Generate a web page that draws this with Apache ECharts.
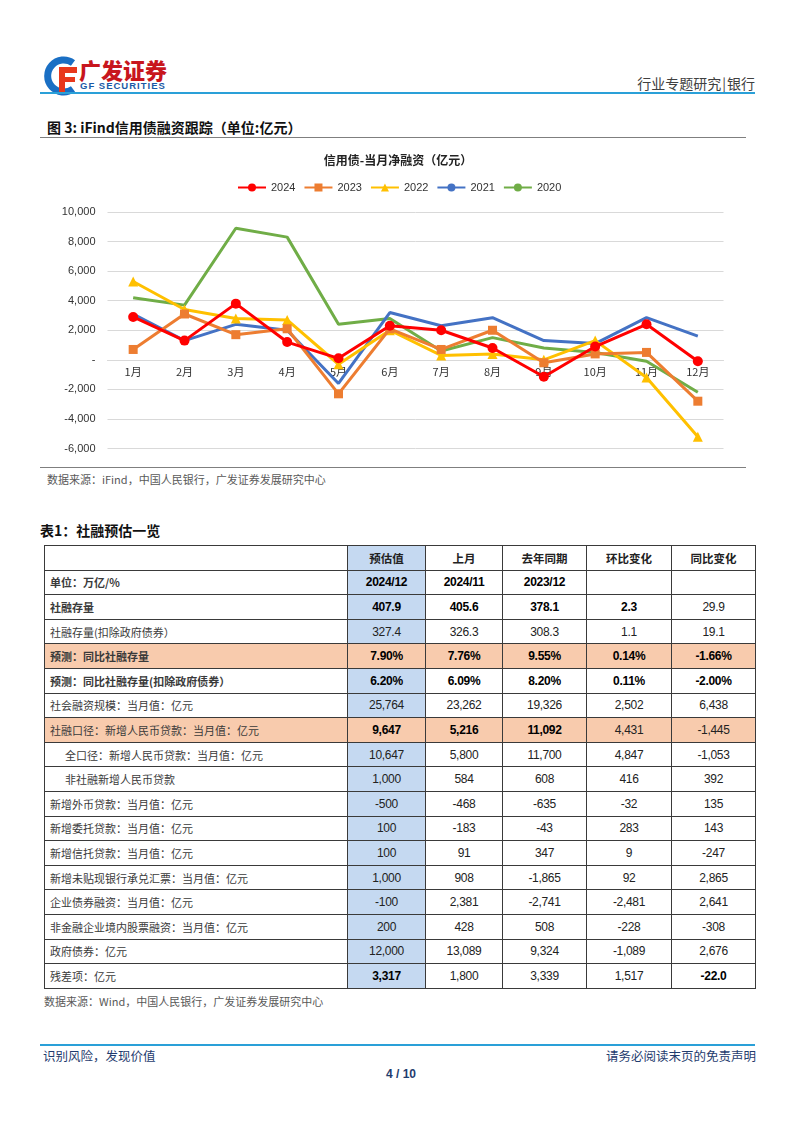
<!DOCTYPE html>
<html><head><meta charset="utf-8">
<script src="https://cdn.jsdelivr.net/npm/echarts@6/dist/echarts.min.js"></script>
<style>
html,body{margin:0;padding:0;background:#fff;}
body{width:802px;height:1133px;position:relative;overflow:hidden;font-family:"Liberation Sans","Noto Sans CJK SC",sans-serif;}
.abs{position:absolute;}
.cjk{font-family:"Noto Sans CJK SC",sans-serif;}
#tbl{position:absolute;left:44px;top:545px;width:711px;border-collapse:collapse;table-layout:fixed;}
#tbl td{border:1px solid #3a3a3a;height:23.6px;padding:0;text-align:center;font-family:"Liberation Sans",sans-serif;font-size:12px;color:#222;letter-spacing:-0.3px;}
#tbl td.lab{text-align:left;padding-left:5px;font-family:"Noto Sans CJK SC",sans-serif;font-size:11px;color:#3a3a3a;letter-spacing:0;border-right:1px solid #3a3a3a;}
#tbl .hd{font-family:"Noto Sans CJK SC",sans-serif;font-size:11.5px;font-weight:bold;color:#222;letter-spacing:0;}
#tbl .b{font-weight:bold;color:#000;}
#tbl .blue{background:#c5d9f1;}
#tbl tr.org td{background:#f8cbad;}
</style></head>
<body>
<!-- header -->
<svg class="abs" style="left:44px;top:56px" width="34" height="40" viewBox="0 0 34 40">
  <path d="M29 7 A16 16 0 1 0 29 33" fill="none" stroke="#1a6fc4" stroke-width="7"/>
  <path d="M15 11 H33 V17 H21 V21 H31 V26 H21 V36 H15 Z" fill="#e8381c"/>
</svg>
<div class="abs cjk" style="left:79px;top:55px;font-size:22px;font-weight:900;color:#c8161d;line-height:28px;">广发证券</div>
<div class="abs" style="left:80px;top:81px;font-size:9.5px;font-weight:bold;color:#1a5aa6;line-height:10px;letter-spacing:1px;">GF SECURITIES</div>
<div class="abs cjk" style="right:47px;top:73px;font-size:14px;color:#404040;line-height:20px;">行业专题研究<span style="margin:0 1px">|</span>银行</div>
<div class="abs" style="left:40px;top:92px;width:715px;height:2px;background:#2aa0d8;"></div>

<div class="abs cjk" style="left:47px;top:117px;font-size:14px;font-weight:bold;color:#111;line-height:20px;">图 3: iFind信用债融资跟踪（单位:亿元）</div>
<div class="abs" style="left:40px;top:137px;width:706px;height:1px;background:#7f7f7f;"></div>

<div id="chart" class="abs" style="left:40px;top:145px;width:720px;height:320px;"></div>

<div class="abs" style="left:40px;top:467px;width:706px;height:1px;background:#7f7f7f;"></div>
<div class="abs cjk" style="left:47px;top:471px;font-size:11px;color:#595959;line-height:16px;">数据来源：iFind，中国人民银行，广发证券发展研究中心</div>

<div class="abs cjk" style="left:40px;top:520px;font-size:14px;font-weight:bold;color:#111;line-height:20px;">表1：社融预估一览</div>
<table id="tbl"></table>
<div class="abs cjk" style="left:44px;top:993px;font-size:11px;color:#595959;line-height:16px;">数据来源：Wind，中国人民银行，广发证券发展研究中心</div>

<!-- footer -->
<div class="abs" style="left:40px;top:1044px;width:715px;height:2px;background:#2aa0d8;"></div>
<div class="abs cjk" style="left:43px;top:1047px;font-size:12.5px;color:#1f3c6e;line-height:18px;">识别风险，发现价值</div>
<div class="abs cjk" style="right:46px;top:1047px;font-size:12.5px;color:#1f3c6e;line-height:18px;">请务必阅读末页的免责声明</div>
<div class="abs" style="left:0;width:802px;text-align:center;top:1066px;font-size:12px;font-weight:bold;color:#1f3c6e;line-height:16px;">4 / 10</div>

<script>
// ---- chart data ----
const months = ['1月','2月','3月','4月','5月','6月','7月','8月','9月','10月','11月','12月'];
const s2024 = [2900, 1300, 3800, 1200, 100, 2300, 2000, 800, -1150, 900, 2400, -100];
const s2023 = [700, 3100, 1700, 2100, -2300, 2100, 700, 2000, -200, 400, 500, -2800];
const s2022 = [5300, 3400, 2800, 2700, -300, 2000, 300, 400, 0, 1300, -1200, -5200];
const s2021 = [3100, 1300, 2400, 2000, -1600, 3200, 2300, 2850, 1300, 1100, 2850, 1600];
const s2020 = [4200, 3700, 8900, 8300, 2400, 2800, 600, 1500, 800, 500, -100, -2200];
const seriesNames = ['2024','2023','2022','2021','2020'];
const yMin = -6000, yMax = 10000, yStep = 2000;

// ---- table data ----
const tableHeader = ['', '预估值', '上月', '去年同期', '环比变化', '同比变化'];
const tableLabels = [
  '单位：万亿/%',
  '社融存量',
  '社融存量(扣除政府债券）',
  '预测：同比社融存量',
  '预测：同比社融存量(扣除政府债券）',
  '社会融资规模：当月值：亿元',
  '社融口径：新增人民币贷款：当月值：亿元',
  '全口径：新增人民币贷款：当月值：亿元',
  '非社融新增人民币贷款',
  '新增外币贷款：当月值：亿元',
  '新增委托贷款：当月值：亿元',
  '新增信托贷款：当月值：亿元',
  '新增未贴现银行承兑汇票：当月值：亿元',
  '企业债券融资：当月值：亿元',
  '非金融企业境内股票融资：当月值：亿元',
  '政府债券：亿元',
  '残差项：亿元'
];
const colEstimate = ['2024/12','407.9','327.4','7.90%','6.20%','25,764','9,647','10,647','1,000','-500','100','100','1,000','-100','200','12,000','3,317'];
const colLastMonth = ['2024/11','405.6','326.3','7.76%','6.09%','23,262','5,216','5,800','584','-468','-183','91','908','2,381','428','13,089','1,800'];
const colLastYear = ['2023/12','378.1','308.3','9.55%','8.20%','19,326','11,092','11,700','608','-635','-43','347','-1,865','-2,741','508','9,324','3,339'];
const colMoM = ['','2.3','1.1','0.14%','0.11%','2,502','4,431','4,847','416','-32','283','9','92','-2,481','-228','-1,089','1,517'];
const colYoY = ['','29.9','19.1','-1.66%','-2.00%','6,438','-1,445','-1,053','392','135','143','-247','2,865','2,641','-308','2,676','-22.0'];

// ---- table styling (separate from data) ----
const orangeRows = [3, 6];
const indentRows = [7, 8];
const boldLabelRows = [0, 1, 3, 4];
const boldCells = {0:[1,2,3],1:[1,2,3,4],3:[1,2,3,4,5],4:[1,2,3,4,5],6:[1,2,3],16:[1,5]};
const colWidths = [303, 78, 77, 84, 85, 84];

(function buildTable(){
  const t = document.getElementById('tbl');
  let html = '<colgroup>' + colWidths.map(w => '<col style="width:' + w + 'px">').join('') + '</colgroup>';
  html += '<tr>' + tableHeader.map((h, j) => '<td class="hd' + (j === 1 ? ' blue' : '') + (j === 0 ? ' lab' : '') + '">' + h + '</td>').join('') + '</tr>';
  const cols = [colEstimate, colLastMonth, colLastYear, colMoM, colYoY];
  tableLabels.forEach((lab, i) => {
    const org = orangeRows.includes(i);
    html += '<tr' + (org ? ' class="org"' : '') + '>';
    const lstyle = indentRows.includes(i) ? ' style="padding-left:20px"' : '';
    html += '<td class="lab' + (boldLabelRows.includes(i) ? ' b' : '') + '"' + lstyle + '>' + lab + '</td>';
    cols.forEach((c, j) => {
      const cls = [];
      if (j === 0 && !org) cls.push('blue');
      if ((boldCells[i] || []).includes(j + 1)) cls.push('b');
      html += '<td class="' + cls.join(' ') + '">' + c[i] + '</td>';
    });
    html += '</tr>';
  });
  t.innerHTML = html;
})();

// ---- chart ----
const chart = echarts.init(document.getElementById('chart'), null, {renderer: 'canvas'});
const colors = ['#ff0000', '#ed7d31', '#ffc000', '#4472c4', '#70ad47'];
const datas = [s2024, s2023, s2022, s2021, s2020];
const symbols = ['circle', 'rect', 'triangle', 'none', 'none'];
const symbolSizes = [10, 9, 10, 0, 0];
const gridTop = 67, gridH = 236.5;
const zeroOffset = gridH * (0 - yMin) / (yMax - yMin); // distance of the zero line above the grid bottom
chart.setOption({
  animation: false,
  color: colors,
  title: {
    text: '信用债-当月净融资（亿元）',
    left: 353, top: 4, textAlign: 'center',
    textStyle: {fontSize: 12, fontWeight: 'bold', color: '#222', fontFamily: 'Noto Sans CJK SC'}
  },
  legend: {
    left: 192, top: 32, itemWidth: 28, itemHeight: 10, itemGap: 8,
    textStyle: {fontSize: 11, color: '#333', fontFamily: 'Liberation Sans'},
    data: seriesNames
  },
  grid: {left: 67.5, top: gridTop, width: 616, height: gridH},
  xAxis: {
    type: 'category', data: months, boundaryGap: true, position: 'bottom',
    offset: -zeroOffset,
    axisLine: {show: true, onZero: false, lineStyle: {color: '#d9d9d9', width: 1}},
    axisTick: {show: false},
    axisLabel: {fontSize: 11, color: '#333', margin: 7, fontFamily: 'Noto Sans CJK SC'}
  },
  yAxis: {
    type: 'value', min: yMin, max: yMax, interval: yStep,
    axisLine: {show: false}, axisTick: {show: false},
    splitLine: {lineStyle: {color: '#d9d9d9', width: 1}},
    axisLabel: {fontSize: 11, color: '#333', margin: 12, fontFamily: 'Liberation Sans',
      formatter: v => v === 0 ? '-' : v.toLocaleString('en-US')}
  },
  series: seriesNames.map((n, i) => ({
    name: n, type: 'line', data: datas[i],
    symbol: symbols[i], symbolSize: symbolSizes[i], showSymbol: symbols[i] !== 'none',
    lineStyle: {width: 3, color: colors[i]},
    itemStyle: {color: colors[i]},
    z: 10 - i
  }))
});
</script>
</body></html>
